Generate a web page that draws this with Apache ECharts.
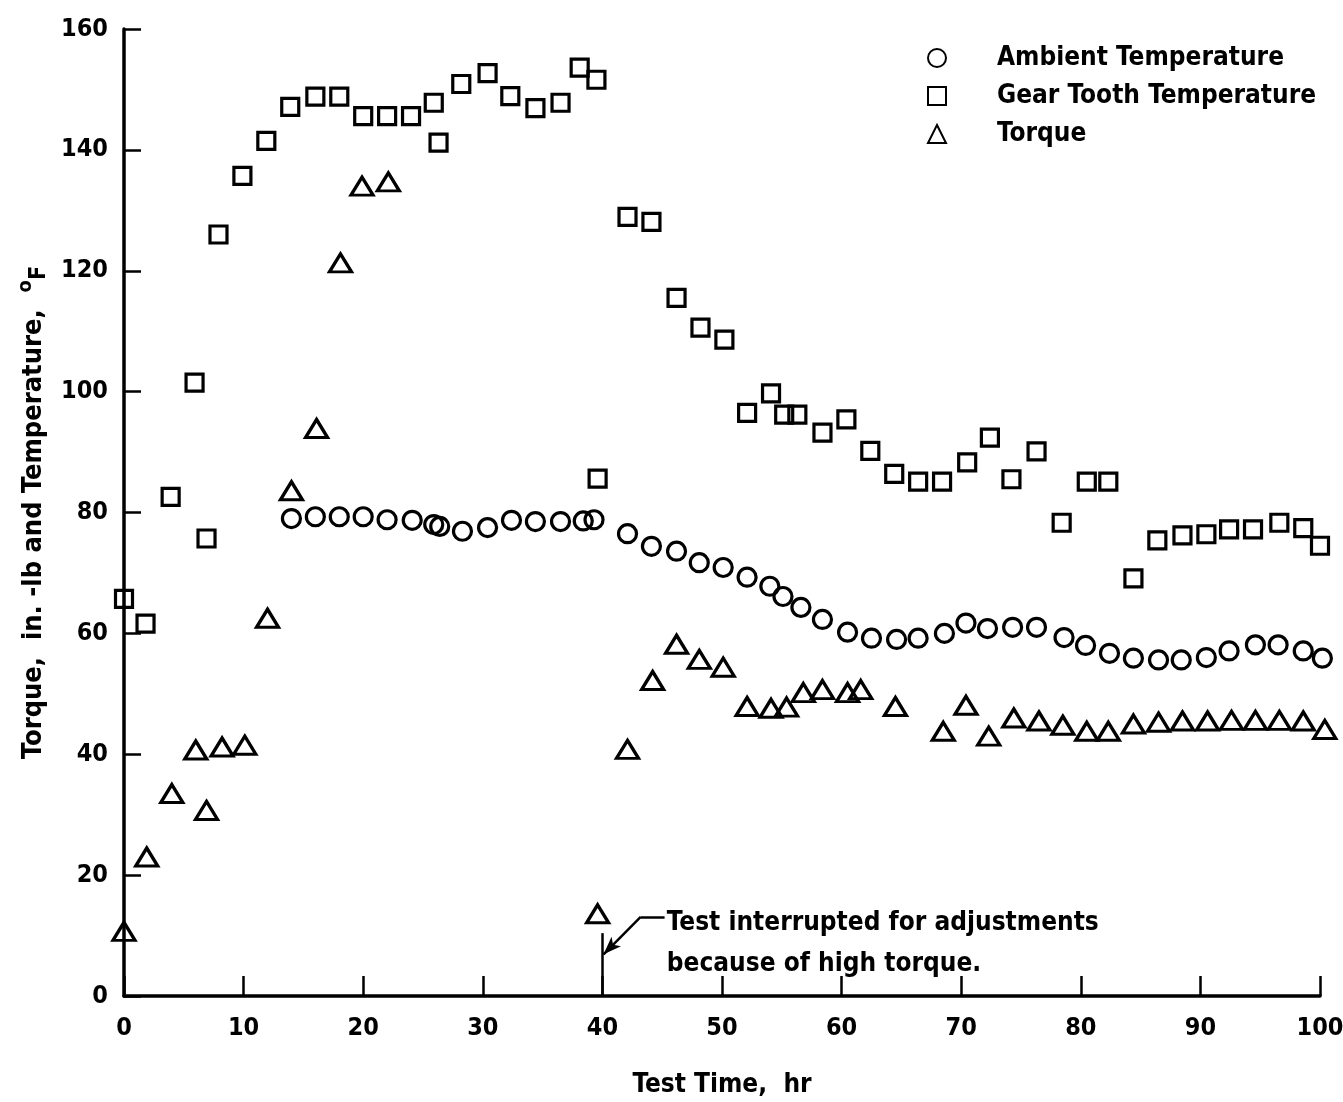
<!DOCTYPE html>
<html>
<head>
<meta charset="utf-8">
<script src="https://cdn.jsdelivr.net/npm/echarts@6/dist/echarts.min.js"></script>
<style>
  html, body { margin: 0; padding: 0; background: #fff; }
  #chart { width: 1343px; height: 1102px; }
</style>
</head>
<body>
<div id="chart"></div>
<script>
// values: [test time hr, value]
var ambient = [
  [14, 79], [16, 79.3], [18, 79.3], [20, 79.3], [22, 78.8], [24.1, 78.7], [25.9, 78], [26.4, 77.7],
  [28.3, 76.9], [30.4, 77.5], [32.4, 78.7], [34.4, 78.5], [36.5, 78.5], [38.4, 78.6], [39.3, 78.8],
  [42.1, 76.5], [44.1, 74.4], [46.2, 73.6], [48.1, 71.7], [50.1, 70.9], [52.1, 69.3], [54, 67.8],
  [55.1, 66.1], [56.6, 64.3], [58.4, 62.3], [60.5, 60.2], [62.5, 59.2], [64.6, 59], [66.4, 59.2],
  [68.6, 60], [70.4, 61.7], [72.2, 60.8], [74.3, 61], [76.3, 61], [78.6, 59.3], [80.4, 58],
  [82.4, 56.7], [84.4, 55.9], [86.5, 55.6], [88.4, 55.6], [90.5, 56], [92.4, 57.1], [94.6, 58.1],
  [96.5, 58.1], [98.6, 57.1], [100.2, 55.9]
]
var gearTooth = [
  [0, 65.7], [1.8, 61.6], [3.9, 82.6], [5.9, 101.5], [6.9, 75.7], [7.9, 126], [9.9, 135.7],
  [11.9, 141.5], [13.9, 147.1], [16, 148.8], [18, 148.8], [20, 145.6], [22, 145.6], [24, 145.6],
  [25.9, 147.8], [26.3, 141.2], [28.2, 150.9], [30.4, 152.7], [32.3, 148.9], [34.4, 146.9],
  [36.5, 147.8], [38.1, 153.6], [39.5, 151.6], [39.6, 85.6], [42.1, 128.9], [44.1, 128.1],
  [46.2, 115.5], [48.2, 110.6], [50.2, 108.6], [52.1, 96.5], [54.1, 99.7], [55.2, 96.2],
  [56.3, 96.2], [58.4, 93.2], [60.4, 95.4], [62.4, 90.2], [64.4, 86.4], [66.4, 85.1], [68.4, 85.1],
  [70.5, 88.3], [72.4, 92.4], [74.2, 85.5], [76.3, 90.1], [78.4, 78.3], [80.5, 85.1], [82.3, 85.1],
  [84.4, 69.1], [86.4, 75.4], [88.5, 76.2], [90.5, 76.4], [92.4, 77.2], [94.4, 77.2], [96.6, 78.3],
  [98.6, 77.4], [100, 74.5]
]
var torque = [
  [0, 10.7], [1.9, 23], [4, 33.5], [6, 40.7], [6.9, 30.7], [8.2, 41.2], [10.1, 41.5], [12, 62.5],
  [14, 83.6], [16.1, 93.9], [18.1, 121.3], [19.9, 134], [22.1, 134.7], [39.6, 13.6], [42.1, 40.8],
  [44.2, 52.2], [46.2, 58.2], [48.1, 55.7], [50.1, 54.4], [52.1, 47.9], [54.1, 47.6], [55.4, 47.8],
  [56.8, 50.2], [58.4, 50.7], [60.5, 50.2], [61.6, 50.7], [64.5, 47.9], [68.5, 43.8], [70.4, 48.1],
  [72.3, 43], [74.4, 46], [76.5, 45.5], [78.5, 44.8], [80.5, 43.8], [82.3, 43.8], [84.4, 45],
  [86.5, 45.3], [88.5, 45.5], [90.6, 45.5], [92.6, 45.6], [94.6, 45.6], [96.6, 45.6], [98.6, 45.5],
  [100.4, 44.1]
]
var seriesNames = ['Ambient Temperature', 'Gear Tooth Temperature', 'Torque']
var noteLines = ['Test interrupted for adjustments', 'because of high torque.']

var font = "'DejaVu Sans Condensed', 'Liberation Sans Narrow', sans-serif"
var hollow = { color: 'rgba(0,0,0,0)', borderColor: '#000', borderWidth: 3.2, opacity: 1 }

var myChart = echarts.init(document.getElementById('chart'))
var option = {
  animation: false,
  backgroundColor: '#fff',
  textStyle: { fontFamily: font, color: '#000' },
  grid: { left: 124, right: 23, top: 29, bottom: 106, outerBoundsMode: 'none' },
  legend: {
    orient: 'vertical',
    left: 922,
    top: 40,
    itemWidth: 18,
    itemHeight: 18,
    itemGap: 12,
    data: seriesNames,
    textStyle: { fontFamily: font, fontSize: 26, fontWeight: 'bold', color: '#000', padding: [0, 0, 0, 46] }
  },
  xAxis: {
    type: 'value',
    min: 0,
    max: 100,
    interval: 10,
    name: 'Test Time,  hr',
    nameLocation: 'middle',
    nameGap: 76,
    nameTextStyle: { fontFamily: font, fontSize: 26, fontWeight: 'bold', color: '#000' },
    splitLine: { show: false },
    axisLine: { lineStyle: { color: '#000', width: 3.5 } },
    axisTick: { inside: true, length: 20, lineStyle: { color: '#000', width: 2.5 } },
    axisLabel: { margin: 20, fontFamily: font, fontSize: 25, fontWeight: 'bold', color: '#000' }
  },
  yAxis: {
    type: 'value',
    min: 0,
    max: 160,
    interval: 20,
    name: 'Torque,  in. -lb and Temperature,  {o|o}{f|F}',
    nameLocation: 'middle',
    nameGap: 66,
    nameTextStyle: {
      fontFamily: font, fontSize: 27, fontWeight: 'bold', color: '#000',
      rich: {
        o: { fontFamily: font, fontSize: 20, fontWeight: 'bold', padding: [0, 0, 15, 0] },
        f: { fontFamily: font, fontSize: 23, fontWeight: 'bold', padding: [10, 0, 0, 0] }
      }
    },
    splitLine: { show: false },
    axisLine: { lineStyle: { color: '#000', width: 3.5 } },
    axisTick: { inside: true, length: 17, lineStyle: { color: '#000', width: 2.5 } },
    axisLabel: { margin: 16, fontFamily: font, fontSize: 25, fontWeight: 'bold', color: '#000' }
  },
  series: [
    {
      name: seriesNames[0],
      type: 'scatter',
      symbol: 'circle',
      symbolSize: 18,
      clip: false,
      itemStyle: hollow,
      data: ambient
    },
    {
      name: seriesNames[1],
      type: 'scatter',
      symbol: 'rect',
      symbolSize: 17,
      clip: false,
      itemStyle: hollow,
      data: gearTooth
    },
    {
      name: seriesNames[2],
      type: 'scatter',
      symbol: 'triangle',
      symbolSize: [22, 18],
      clip: false,
      itemStyle: hollow,
      data: torque,
      markLine: {
        silent: true,
        animation: false,
        label: { show: false },
        lineStyle: { color: '#000', width: 2.5, type: 'solid', opacity: 1 },
        data: [
          [{ coord: [40, 0], symbol: 'none' }, { coord: [40, 10.4], symbol: 'none' }],
          [{ coord: [45.2, 13.1], symbol: 'none' }, { coord: [43.2, 13.1], symbol: 'none' }],
          [{ coord: [43.2, 13.1], symbol: 'none' }, { coord: [40.1, 6.9], symbol: 'arrow', symbolSize: [10, 18] }]
        ]
      }
    }
  ]
}
myChart.setOption(option)

// annotation text next to the arrow
var p = myChart.convertToPixel({ gridIndex: 0 }, [45.3, 13.1])
myChart.setOption({
  graphic: [{
    type: 'text',
    left: p[0] + 1,
    top: p[1] - 14,
    style: {
      text: noteLines.join('\n'),
      font: 'bold 26px ' + font,
      lineHeight: 41,
      fill: '#000'
    }
  }]
})
</script>
</body>
</html>
